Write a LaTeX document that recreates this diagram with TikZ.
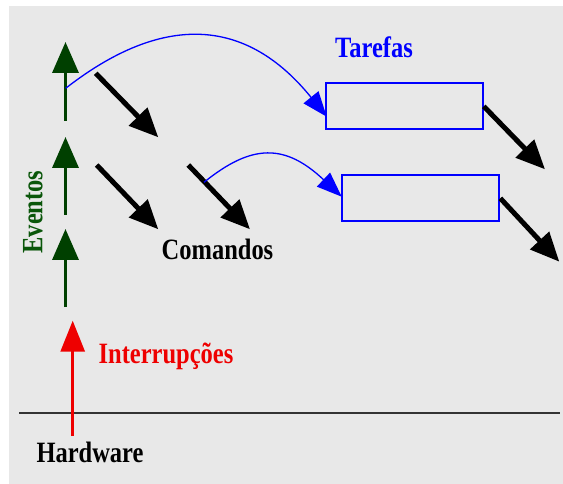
\documentclass[tikz,border=0pt]{standalone}
\usepackage{fontspec}
\setmainfont{Liberation Serif}
\usetikzlibrary{arrows.meta}
\definecolor{bggrey}{HTML}{E8E8E8}
\definecolor{evgreen}{HTML}{004000}
\definecolor{evtext}{HTML}{0A560A}
\definecolor{irred}{HTML}{EE0000}
\definecolor{tblue}{HTML}{0000FF}
\definecolor{hwline}{HTML}{333333}
\newcommand{\narrowtext}[1]{\scalebox{0.83}[1]{#1}}
\begin{document}
\begin{tikzpicture}[x=1pt,y=-1pt,
  lbl/.style={font=\fontsize{29.5}{30}\selectfont\bfseries, inner sep=0pt, anchor=base},
  evarrow/.style={draw=evgreen, line width=3.5pt, -{Triangle[length=31pt,width=26pt]}},
  irqarrow/.style={draw=irred, line width=3pt, -{Triangle[length=31pt,width=24pt]}},
  cmdarrow/.style={draw=black, line width=5pt, -{Triangle[length=29pt,width=25pt]}},
  taskbox/.style={draw=tblue, line width=2pt, minimum width=156.7pt, minimum height=46pt, inner sep=0pt},
  postarrow/.style={draw=tblue, line width=1.3pt, -{Triangle[length=25pt,width=19pt]}},
]
\useasboundingbox (0,0) rectangle (563,484);
\fill[white] (0,0) rectangle (563,484);
\fill[bggrey] (8.7,6) rectangle (563,484);

% coordinates
\coordinate (e1a) at (65.5,121);
\coordinate (e1b) at (65.5,42);
\coordinate (e2a) at (65.5,215);
\coordinate (e2b) at (65.5,137);
\coordinate (e3a) at (65.5,307);
\coordinate (e3b) at (65.5,229);
\coordinate (ir0) at (72.7,436);
\coordinate (ir1) at (72.7,320.7);
\coordinate (hl1) at (19,413.3);
\coordinate (hl2) at (559.7,413.3);
\coordinate (ca0) at (95.7,73.3);
\coordinate (ca1) at (158.3,137.3);
\coordinate (cb0) at (96.7,165);
\coordinate (cb1) at (158.3,229.3);
\coordinate (cc0) at (188.3,165);
\coordinate (cc1) at (250,229.3);
\coordinate (p1s) at (65.7,88.3);
\coordinate (p1e) at (326.7,116.7);
\coordinate (p2s) at (204,182.3);
\coordinate (p2e) at (341.7,196.7);
\coordinate (t1e) at (545,169.3);
\coordinate (t2e) at (559.3,261.7);

% task boxes
\node[taskbox] (r1) at (404.4,106.3) {};
\node[taskbox, minimum width=157.3pt] (r2) at (420.7,198.3) {};

% labels
\node[lbl, text=tblue] (tarefas) at (374,58) {\narrowtext{Tarefas}};
\node[lbl, text=black] (comandos) at (217.5,260) {\narrowtext{Comandos}};
\node[lbl, text=irred] (interr) at (166,363) {\narrowtext{Interrupções}};
\node[lbl, text=black] (hardware) at (90,462) {\narrowtext{Hardware}};
\node[lbl, text=evtext, rotate=90] (eventos) at (42.3,212) {\narrowtext{Eventos}};

% hardware line
\draw[hwline, line width=2pt] (hl1) -- (hl2);

% event arrows
\draw[evarrow] (e1a) -- (e1b);
\draw[evarrow] (e2a) -- (e2b);
\draw[evarrow] (e3a) -- (e3b);

% interrupt arrow
\draw[irqarrow] (ir0) -- (ir1);

% command arrows
\draw[cmdarrow] (ca0) -- (ca1);
\draw[cmdarrow] (cb0) -- (cb1);
\draw[cmdarrow] (cc0) -- (cc1);
\draw[cmdarrow] (r1.east) -- (t1e);
\draw[cmdarrow] (r2.east) -- (t2e);

% post arrows
\draw[postarrow] (p1s) .. controls (147.5,24.5) and (236.4,5) .. (p1e);
\draw[postarrow] (p2s) .. controls (252,143.5) and (285,143.5) .. (p2e);
\end{tikzpicture}
\end{document}
